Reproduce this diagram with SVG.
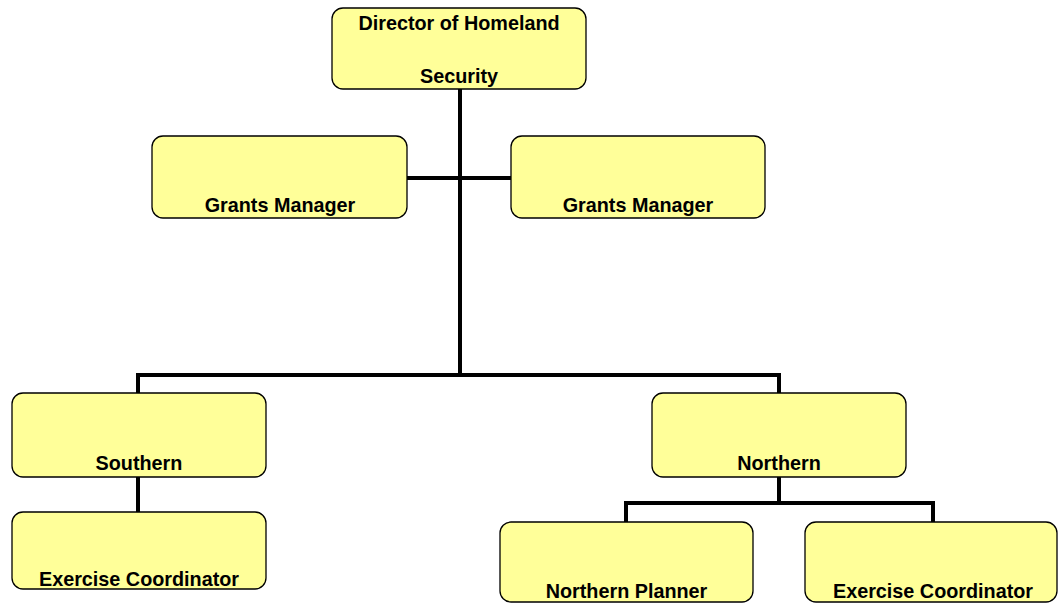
<svg xmlns="http://www.w3.org/2000/svg" width="1058" height="603" viewBox="0 0 1058 603">
<style>
.box{fill:#FFFF99;stroke:#000;stroke-width:1.3}
.t{font-family:"Liberation Sans",Arial,sans-serif;font-weight:bold;font-size:19.8px;fill:#000;text-anchor:middle}
.c{fill:none;stroke:#000;stroke-width:4;stroke-linecap:square}
</style>
<defs>
<clipPath id="cg1"><rect x="152" y="136" width="255" height="82"/></clipPath>
<clipPath id="cg2"><rect x="511" y="136" width="254" height="82"/></clipPath>
<clipPath id="cex"><rect x="12" y="512" width="254" height="77"/></clipPath>
</defs>
<g id="connectors">
<path class="c" d="M460 90V375"/>
<path class="c" d="M407 178H511"/>
<path class="c" d="M138 393V375H779V393"/>
<path class="c" d="M138 477V512"/>
<path class="c" d="M779 477V503"/>
<path class="c" d="M626 522V503H933V522"/>
</g>
<g id="director">
<rect class="box" x="332" y="8" width="254" height="81" rx="11"/>
<text class="t" x="459" y="30">Director of Homeland</text>
<text class="t" x="459" y="83">Security</text>
</g>
<g id="grants1">
<rect class="box" x="152" y="136" width="255" height="82" rx="11"/>
<text class="t" x="280" y="212" clip-path="url(#cg1)">Grants Manager</text>
</g>
<g id="grants2">
<rect class="box" x="511" y="136" width="254" height="82" rx="11"/>
<text class="t" x="638" y="212" clip-path="url(#cg2)">Grants Manager</text>
</g>
<g id="southern">
<rect class="box" x="12" y="393" width="254" height="84" rx="11"/>
<text class="t" x="139" y="470">Southern</text>
</g>
<g id="southern-exercise">
<rect class="box" x="12" y="512" width="254" height="77" rx="11"/>
<text class="t" x="139" y="586" clip-path="url(#cex)">Exercise Coordinator</text>
</g>
<g id="northern">
<rect class="box" x="652" y="393" width="254" height="84" rx="11"/>
<text class="t" x="779" y="470">Northern</text>
</g>
<g id="northern-planner">
<rect class="box" x="500" y="522" width="253" height="80" rx="11"/>
<text class="t" x="626.5" y="598">Northern Planner</text>
</g>
<g id="northern-exercise">
<rect class="box" x="805" y="522" width="252" height="80" rx="11"/>
<text class="t" x="933" y="598">Exercise Coordinator</text>
</g>
</svg>
